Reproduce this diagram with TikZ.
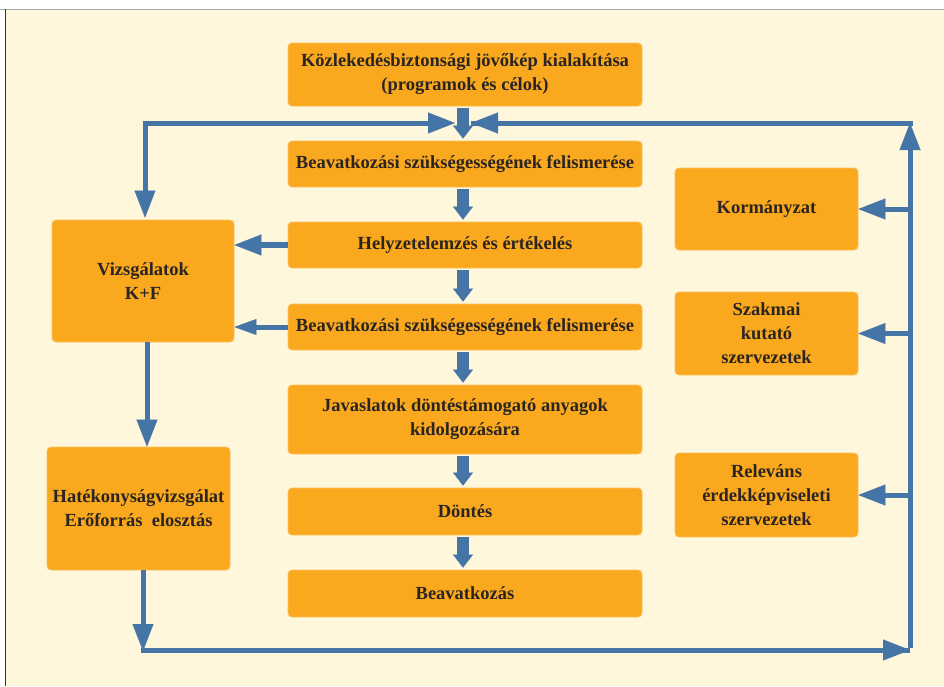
\documentclass[tikz,border=0pt]{standalone}
\usepackage{fontspec}
\setmainfont{Liberation Serif}
\usetikzlibrary{arrows.meta}
\definecolor{paper}{HTML}{FFF7DC}
\definecolor{boxfill}{HTML}{FAA81E}
\definecolor{boxedge}{HTML}{FBC060}
\definecolor{flowblue}{HTML}{4574A6}
\definecolor{ink}{HTML}{2A2522}
\begin{document}
\begin{tikzpicture}[x=1pt,y=-1pt,
  stepbox/.style={draw=boxedge,line width=0.8pt,fill=boxfill,rounded corners=4pt,
    minimum width=354pt,align=center,inner sep=0pt,
    font=\fontsize{18.5}{24}\selectfont\bfseries,text=ink},
  sidebox/.style={stepbox,minimum width=183pt},
  flow/.style={draw=flowblue,line width=5pt,
    -{Triangle[width=21pt,length=27pt,line width=0.1pt]}},
  thinflow/.style={draw=flowblue,line width=5pt,
    -{Triangle[width=16pt,length=22pt,line width=0.1pt]}},
  blockarrow/.style={draw=flowblue,line width=12pt,shorten <=2pt,shorten >=2pt,
    -{Triangle[width=20pt,length=13pt,line width=0.1pt]}},
  wire/.style={draw=flowblue,line width=5pt}]

% page and frame
\useasboundingbox (0,0) rectangle (944,686);
\fill[paper] (5,9) rectangle (944,686);
\draw[gray!70,line width=1pt] (0,9) -- (944,9);
\draw[black!80,line width=1pt] (5,9) -- (5,686);

% central chain
\node[stepbox,minimum height=63pt] (vision) at (465,74.5)
  {Közlekedésbiztonsági jövőkép kialakítása\\(programok és célok)};
\node[stepbox,minimum height=46pt] (need1) at (465,164)
  {Beavatkozási szükségességének felismerése};
\node[stepbox,minimum height=46pt] (analysis) at (465,245)
  {Helyzetelemzés és értékelés};
\node[stepbox,minimum height=46pt] (need2) at (465,327)
  {Beavatkozási szükségességének felismerése};
\node[stepbox,minimum height=69pt] (proposal) at (465,419.5)
  {Javaslatok döntéstámogató anyagok\\kidolgozására};
\node[stepbox,minimum height=47pt] (decision) at (465,511.5) {Döntés};
\node[stepbox,minimum height=47pt] (action) at (465,593.5) {Beavatkozás};

% left column
\node[sidebox,minimum width=182pt,minimum height=122pt] (research) at (143,281)
  {Vizsgálatok\\K+F};
\node[sidebox,minimum height=123pt] (efficiency) at (138.5,508.5)
  {Hatékonyságvizsgálat\\Erőforrás~~elosztás};

% right column
\node[sidebox,minimum height=82pt] (gov) at (766.5,209) {Kormányzat};
\node[sidebox,minimum height=83pt] (prof) at (766.5,333.5)
  {Szakmai\\kutató\\szervezetek};
\node[sidebox,minimum height=84pt] (interest) at (766.5,495)
  {Releváns\\érdekképviseleti\\szervezetek};

% loop corners and entry points
\coordinate (TL) at (145,123);
\coordinate (TR) at (910,123);
\coordinate (BR) at (910,650);
\coordinate (BL) at (143,650);
\coordinate (ltip) at (455,123);
\coordinate (rtip) at (471,123);
\coordinate (mid) at (463,0);

% block arrows down the chain
\draw[blockarrow] (mid |- vision.south) -- (mid |- need1.north);
\draw[blockarrow] (mid |- need1.south) -- (mid |- analysis.north);
\draw[blockarrow] (mid |- analysis.south) -- (mid |- need2.north);
\draw[blockarrow] (mid |- need2.south) -- (mid |- proposal.north);
\draw[blockarrow] (mid |- proposal.south) -- (mid |- decision.north);
\draw[blockarrow] (mid |- decision.south) -- (mid |- action.north);

% feedback loop
\draw[flow,{Triangle[width=21pt,length=27pt,line width=0.1pt]}-{Triangle[width=21pt,length=27pt,line width=0.1pt]}]
  (ltip) -- (TL) -- ([yshift=2pt]TL |- research.north);
\draw[flow] (BL |- efficiency.south) -- ([yshift=-1pt]BL);
\draw[wire] ([xshift=-2.5pt]BL) -- (BR);
\draw[flow] (BL) -- (BR);
\draw[flow] ([yshift=2.5pt]BR) -- (TR);
\draw[wire] ([xshift=2.5pt]TR) -- (rtip);
\draw[flow] (TR) -- (rtip);

% branches to the stakeholders
\draw[flow] (TR |- gov.east) -- (gov.east);
\draw[flow] (TR |- prof.east) -- (prof.east);
\draw[flow] (TR |- interest.east) -- (interest.east);

% reports to the research box
\draw[flow,line width=6pt] (analysis.west) -- (research.east |- analysis.west);
\draw[thinflow] (need2.west) -- (research.east |- need2.west);
\draw[flow] ([xshift=2pt]TL |- research.south) -- ([xshift=2pt]TL |- efficiency.north);
\end{tikzpicture}
\end{document}
